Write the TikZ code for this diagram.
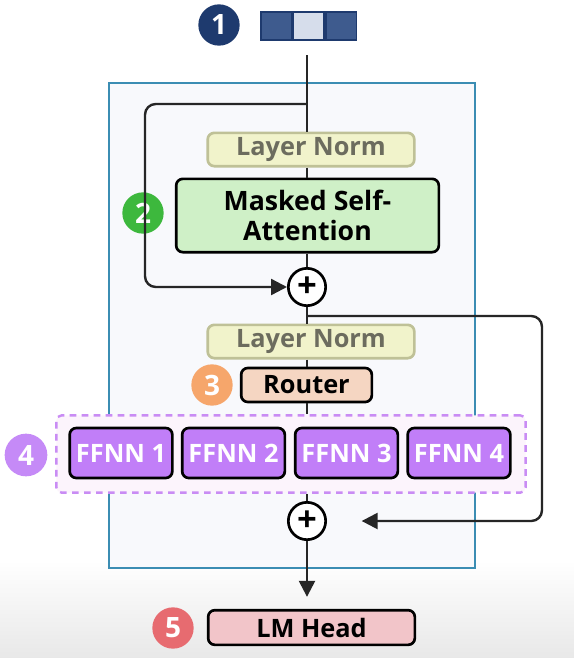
\documentclass[tikz,border=0pt]{standalone}
\usepackage{fontspec}
\setmainfont{Open Sans}
\usepackage{tikz}
\usepackage{xcolor}
\definecolor{tokencolor}{HTML}{3E5B8E}
\definecolor{tokenlight}{HTML}{D6DDEB}
\definecolor{tokenedge}{HTML}{1E3A6E}
\definecolor{layercolor}{HTML}{3B8DB3}
\definecolor{layerfill}{HTML}{F8F9FC}
\definecolor{normfill}{HTML}{F1F3CB}
\definecolor{normedge}{HTML}{BFC197}
\definecolor{normtext}{HTML}{6C6C5E}
\definecolor{attnfill}{HTML}{CFF0C7}
\definecolor{routerfill}{HTML}{F5D6C2}
\definecolor{expertfill}{HTML}{C17EF8}
\definecolor{expertedge}{HTML}{C98CF4}
\definecolor{expertbg}{HTML}{FCF4FC}
\definecolor{headfill}{HTML}{F2C5C9}
\colorlet{badgeone}{tokenedge}
\definecolor{badgetwo}{HTML}{3DB83D}
\definecolor{badgethree}{HTML}{F6A66B}
\definecolor{badgefour}{HTML}{C58AF7}
\definecolor{badgefive}{HTML}{E76B70}
\usetikzlibrary{
  arrows.meta,
  shapes.misc,
  shapes,
  positioning,
}

\begin{document}
\begin{tikzpicture}[x=0.75pt,y=-0.75pt]
	\tikzstyle{every node}=[font=\bfseries\fontsize{19}{22}\selectfont]
	\tikzstyle{badge}=[shape=circle, inner sep=0pt, minimum size=31pt, text=white, font=\bfseries\fontsize{21}{22}\selectfont]
	\tikzstyle{block}=[draw, rounded corners=5pt, line width=2pt, inner sep=0pt, align=center]
	\tikzstyle{wire}=[line width=1.8pt, black!85]
	\tikzstyle{tip}=[-{Triangle[length=12pt,width=12pt]}]
	\tikzstyle{adder}=[draw, shape=circle, line width=2pt, fill=white, inner sep=0pt, minimum size=28pt, font=\bfseries\fontsize{26}{26}\selectfont]
	% background
	\useasboundingbox (0,0) rectangle (574,658);
	\fill [white] (0,0) rectangle (574,560);
	\shade [top color=white, bottom color=black!9] (0,560) rectangle (574,658);
	\draw [line width=2.2pt, layercolor, fill=layerfill] (109,83) rectangle (475,568);
	% input token
	\node (badge1)[badge, fill=badgeone] at (219,25) {1};
	\node (tok1)[draw=tokenedge, line width=1.2pt, fill=tokencolor, minimum width=23pt, minimum height=21pt, inner sep=0pt] at (276.5,26) {};
	\node (tok2)[draw=tokenedge, line width=1.2pt, fill=tokenlight, minimum width=23pt, minimum height=21pt, inner sep=0pt, right=0pt of tok1] {};
	\node (tok3)[draw=tokenedge, line width=1.2pt, fill=tokencolor, minimum width=23pt, minimum height=21pt, inner sep=0pt, right=0pt of tok2] {};
	\coordinate (start) at (307,55);
	\coordinate (split1) at (307,104);
	% attention part
	\node (norm1)[block, draw=normedge, fill=normfill, text=normtext, minimum width=155pt, minimum height=25pt] at (311,149.5) {Layer Norm};
	\node (attn)[block, fill=attnfill, minimum width=197pt, minimum height=55pt, font=\bfseries\fontsize{20}{23}\selectfont] at (307.5,215.5) {Masked Self-\\Attention};
	\node (badge2)[badge, fill=badgetwo] at (143,213) {2};
	\node (plus1)[adder] at (307,287) {+};
	\draw [wire] (start) -- (norm1.north -| start);
	\draw [wire] (norm1.south -| start) -- (attn.north -| start);
	\draw [wire] (attn.south -| start) -- (plus1);
	\draw [wire, tip, rounded corners=8pt] (split1) -- (145,104) -- (145,287) -- (plus1.west);
	% moe part
	\coordinate (split2) at (307,316);
	\node (norm2)[block, draw=normedge, fill=normfill, text=normtext, minimum width=155pt, minimum height=25pt] at (311,341.5) {Layer Norm};
	\node (router)[block, fill=routerfill, minimum width=98pt, minimum height=25.5pt] at (306.5,385) {Router};
	\node (badge3)[badge, fill=badgethree] at (212,385) {3};
	\node (experts)[draw=expertedge, dashed, line width=1.8pt, dash pattern=on 5pt off 4pt, fill=expertbg, rounded corners=4pt, minimum width=352pt, minimum height=58pt, inner sep=0pt] at (291,454) {};
	\node (badge4)[badge, fill=badgefour, minimum size=32pt] at (26,455) {4};
	\foreach \x/\i in {121/1, 233.5/2, 346.5/3, 459/4}
		\node (ffnn\i)[block, fill=expertfill, text=white, minimum width=77pt, minimum height=37.5pt] at (\x,453) {FFNN \i};
	\node (plus2)[adder] at (307,521) {+};
	\draw [wire] (plus1) -- (norm2.north -| plus1);
	\draw [wire] (norm2.south -| plus1) -- (router.north -| plus1);
	\draw [wire] (router.south -| plus1) -- (experts.north -| plus1);
	\draw [wire] (experts.south -| plus1) -- (plus2);
	\draw [wire, tip, rounded corners=8pt] (split2) -- (542,316) -- (542,521) -- ([xshift=26pt]plus2.east);
	% output
	\node (head)[block, fill=headfill, minimum width=155pt, minimum height=26pt] at (311.5,627.5) {LM Head};
	\node (badge5)[badge, fill=badgefive] at (173,628) {5};
	\draw [wire, tip] (plus2) -- ([yshift=9pt]head.north -| plus2);
\end{tikzpicture}
\end{document}
